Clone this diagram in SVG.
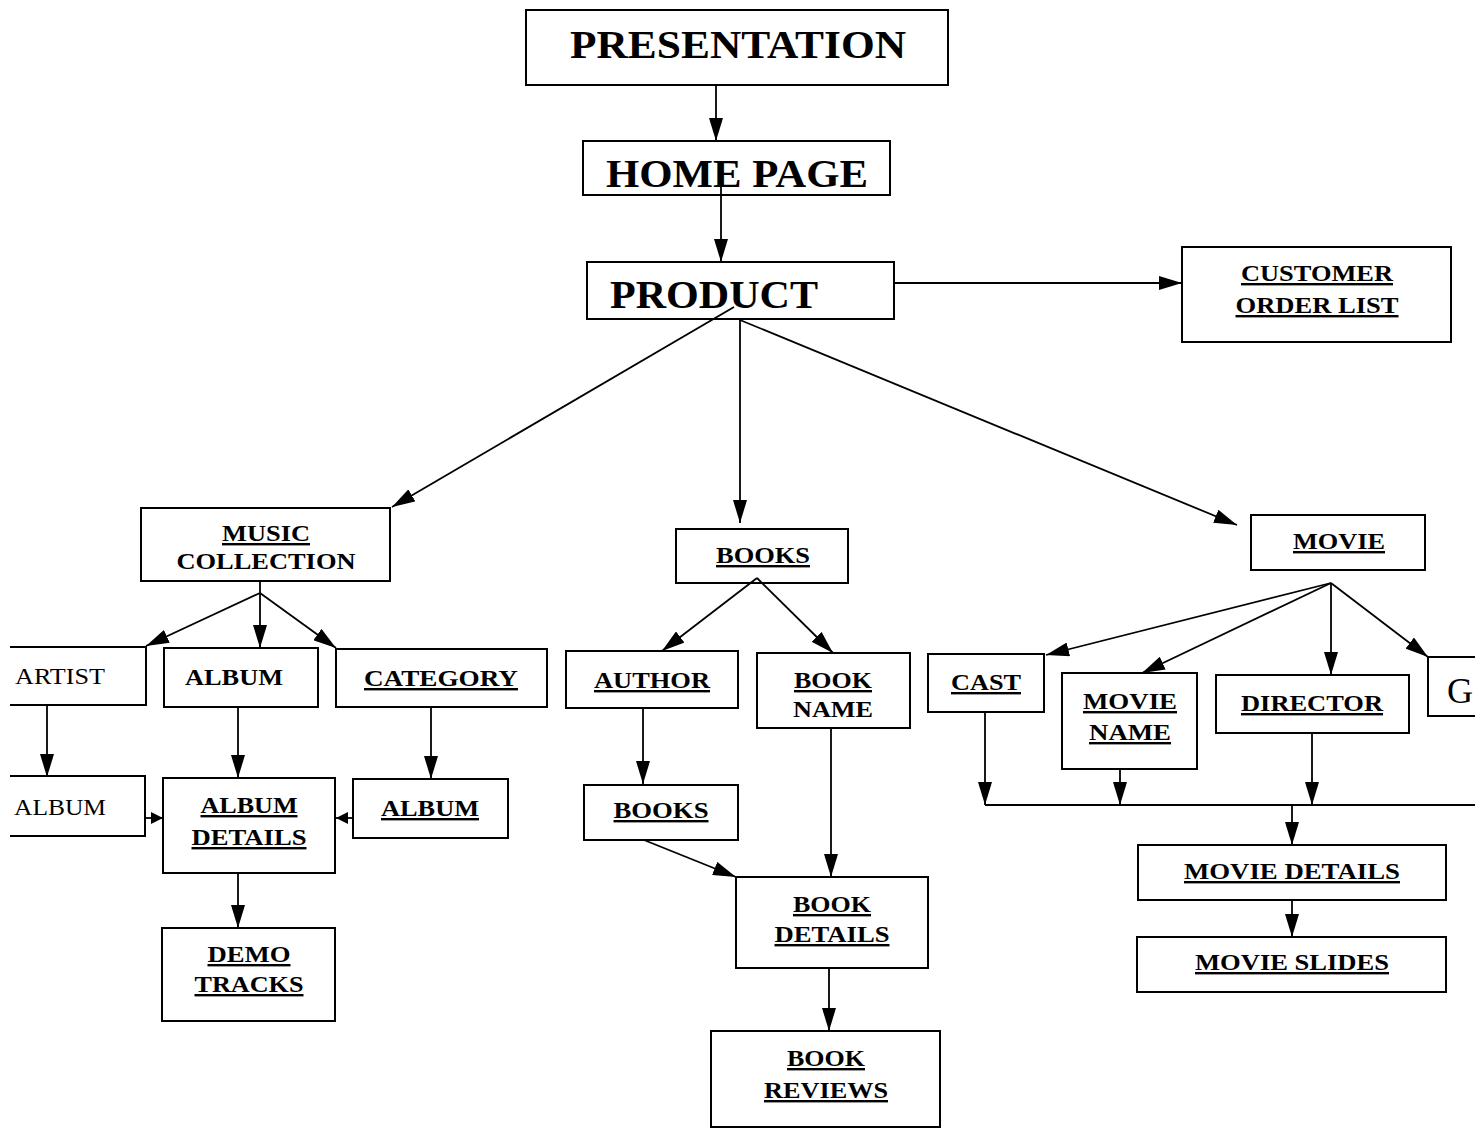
<svg xmlns="http://www.w3.org/2000/svg" width="1475" height="1128" viewBox="0 0 1475 1128">
<style>
.box{fill:none;stroke:#000;stroke-width:2}
.c{fill:none;stroke:#000;stroke-width:1.8}
text{font-family:"Liberation Serif","Times New Roman",serif;fill:#000}
.b{font-weight:bold;font-size:24px}
.r{font-size:23px}
.big{font-weight:bold;font-size:40px}
.u{text-decoration:underline}
</style>
<defs>
<marker id="ah" markerUnits="userSpaceOnUse" markerWidth="24" markerHeight="14" refX="23" refY="7" orient="auto">
<path d="M0,0 L23,7 L0,14 z" fill="#000"/>
</marker>
<marker id="as" markerUnits="userSpaceOnUse" markerWidth="13" markerHeight="12" refX="12" refY="6" orient="auto">
<path d="M0,0 L12,6 L0,12 z" fill="#000"/>
</marker>
</defs>
<rect width="1475" height="1128" fill="#fff"/>
<g id="connectors">
<path class="c" d="M716,85 V141" marker-end="url(#ah)"/>
<path class="c" d="M721,172 V262" marker-end="url(#ah)"/>
<path class="c" d="M894,283 H1182" marker-end="url(#ah)"/>
<path class="c" d="M734,307 L392,507" marker-end="url(#ah)"/>
<path class="c" d="M740,320 V523" marker-end="url(#ah)"/>
<path class="c" d="M740,320 L1237,525" marker-end="url(#ah)"/>
<path class="c" d="M260,582 V593"/>
<path class="c" d="M260,593 L146,646" marker-end="url(#ah)"/>
<path class="c" d="M260,593 V648" marker-end="url(#ah)"/>
<path class="c" d="M260,593 L336,648" marker-end="url(#ah)"/>
<path class="c" d="M47,706 V777" marker-end="url(#ah)"/>
<path class="c" d="M238,707 V778" marker-end="url(#ah)"/>
<path class="c" d="M431,708 V779" marker-end="url(#ah)"/>
<path class="c" d="M145,818 H163" marker-end="url(#as)"/>
<path class="c" d="M353,818 H336" marker-end="url(#as)"/>
<path class="c" d="M238,874 V928" marker-end="url(#ah)"/>
<path class="c" d="M757,578 L662,651" marker-end="url(#ah)"/>
<path class="c" d="M757,578 L833,653" marker-end="url(#ah)"/>
<path class="c" d="M643,708 V784" marker-end="url(#ah)"/>
<path class="c" d="M831,728 V877" marker-end="url(#ah)"/>
<path class="c" d="M644,840 L736,877" marker-end="url(#ah)"/>
<path class="c" d="M829,968 V1031" marker-end="url(#ah)"/>
<path class="c" d="M1331,583 L1046,655" marker-end="url(#ah)"/>
<path class="c" d="M1331,583 L1142,673" marker-end="url(#ah)"/>
<path class="c" d="M1331,583 V675" marker-end="url(#ah)"/>
<path class="c" d="M1331,583 L1428,657" marker-end="url(#ah)"/>
<path class="c" d="M985,712 V805" marker-end="url(#ah)"/>
<path class="c" d="M1120,769 V805" marker-end="url(#ah)"/>
<path class="c" d="M1312,733 V805" marker-end="url(#ah)"/>
<path class="c" d="M985,805 H1475"/>
<path class="c" d="M1292,805 V845" marker-end="url(#ah)"/>
<path class="c" d="M1292,900 V937" marker-end="url(#ah)"/>
</g>
<g id="presentation"><rect class="box" x="526" y="10" width="422" height="75"/><text class="big" x="738" y="58" text-anchor="middle" textLength="336" lengthAdjust="spacingAndGlyphs">PRESENTATION</text></g>
<g id="home-page"><rect class="box" x="583" y="141" width="307" height="54"/><text class="big" x="737" y="187" text-anchor="middle" textLength="262" lengthAdjust="spacingAndGlyphs">HOME PAGE</text></g>
<g id="product"><rect class="box" x="587" y="262" width="307" height="57"/><text class="big" x="714" y="308" text-anchor="middle" textLength="208" lengthAdjust="spacingAndGlyphs">PRODUCT</text></g>
<g id="customer-order-list"><rect class="box" x="1182" y="247" width="269" height="95"/><text class="b u" x="1317" y="281" text-anchor="middle" textLength="152" lengthAdjust="spacingAndGlyphs">CUSTOMER</text><text class="b u" x="1317" y="313" text-anchor="middle" textLength="163" lengthAdjust="spacingAndGlyphs">ORDER LIST</text></g>
<g id="music-collection"><rect class="box" x="141" y="508" width="249" height="73"/><text class="b u" x="266" y="541" text-anchor="middle" textLength="88" lengthAdjust="spacingAndGlyphs">MUSIC</text><text class="b" x="266" y="569" text-anchor="middle" textLength="179" lengthAdjust="spacingAndGlyphs">COLLECTION</text></g>
<g id="artist"><path class="box" d="M10,647 H146 V705 H10"/><text class="r" x="15" y="684" textLength="90" lengthAdjust="spacingAndGlyphs">ARTIST</text></g>
<g id="album"><rect class="box" x="164" y="648" width="154" height="59"/><text class="b" x="234" y="685" text-anchor="middle" textLength="98" lengthAdjust="spacingAndGlyphs">ALBUM</text></g>
<g id="category"><rect class="box" x="336" y="649" width="211" height="58"/><text class="b u" x="441" y="686" text-anchor="middle" textLength="154" lengthAdjust="spacingAndGlyphs">CATEGORY</text></g>
<g id="artist-album"><path class="box" d="M10,776 H145 V836 H10"/><text class="r" x="14" y="815" textLength="92" lengthAdjust="spacingAndGlyphs">ALBUM</text></g>
<g id="album-details"><rect class="box" x="163" y="778" width="172" height="95"/><text class="b u" x="249" y="813" text-anchor="middle" textLength="97" lengthAdjust="spacingAndGlyphs">ALBUM</text><text class="b u" x="249" y="845" text-anchor="middle" textLength="115" lengthAdjust="spacingAndGlyphs">DETAILS</text></g>
<g id="category-album"><rect class="box" x="353" y="779" width="155" height="59"/><text class="b u" x="430" y="816" text-anchor="middle" textLength="98" lengthAdjust="spacingAndGlyphs">ALBUM</text></g>
<g id="demo-tracks"><rect class="box" x="162" y="928" width="173" height="93"/><text class="b u" x="249" y="962" text-anchor="middle" textLength="83" lengthAdjust="spacingAndGlyphs">DEMO</text><text class="b u" x="249" y="992" text-anchor="middle" textLength="109" lengthAdjust="spacingAndGlyphs">TRACKS</text></g>
<g id="books"><rect class="box" x="676" y="529" width="172" height="54"/><text class="b u" x="763" y="563" text-anchor="middle" textLength="94" lengthAdjust="spacingAndGlyphs">BOOKS</text></g>
<g id="author"><rect class="box" x="566" y="651" width="172" height="57"/><text class="b u" x="652" y="688" text-anchor="middle" textLength="116" lengthAdjust="spacingAndGlyphs">AUTHOR</text></g>
<g id="book-name"><rect class="box" x="757" y="653" width="153" height="75"/><text class="b u" x="833" y="688" text-anchor="middle" textLength="78" lengthAdjust="spacingAndGlyphs">BOOK</text><text class="b" x="833" y="717" text-anchor="middle" textLength="80" lengthAdjust="spacingAndGlyphs">NAME</text></g>
<g id="author-books"><rect class="box" x="584" y="785" width="154" height="55"/><text class="b u" x="661" y="818" text-anchor="middle" textLength="95" lengthAdjust="spacingAndGlyphs">BOOKS</text></g>
<g id="book-details"><rect class="box" x="736" y="877" width="192" height="91"/><text class="b u" x="832" y="912" text-anchor="middle" textLength="78" lengthAdjust="spacingAndGlyphs">BOOK</text><text class="b u" x="832" y="942" text-anchor="middle" textLength="115" lengthAdjust="spacingAndGlyphs">DETAILS</text></g>
<g id="book-reviews"><rect class="box" x="711" y="1031" width="229" height="96"/><text class="b u" x="826" y="1066" text-anchor="middle" textLength="78" lengthAdjust="spacingAndGlyphs">BOOK</text><text class="b u" x="826" y="1098" text-anchor="middle" textLength="124" lengthAdjust="spacingAndGlyphs">REVIEWS</text></g>
<g id="movie"><rect class="box" x="1251" y="515" width="174" height="55"/><text class="b u" x="1339" y="549" text-anchor="middle" textLength="92" lengthAdjust="spacingAndGlyphs">MOVIE</text></g>
<g id="cast"><rect class="box" x="928" y="654" width="116" height="58"/><text class="b u" x="986" y="690" text-anchor="middle" textLength="70" lengthAdjust="spacingAndGlyphs">CAST</text></g>
<g id="movie-name"><rect class="box" x="1062" y="673" width="135" height="96"/><text class="b u" x="1130" y="709" text-anchor="middle" textLength="94" lengthAdjust="spacingAndGlyphs">MOVIE</text><text class="b u" x="1130" y="740" text-anchor="middle" textLength="82" lengthAdjust="spacingAndGlyphs">NAME</text></g>
<g id="director"><rect class="box" x="1216" y="675" width="193" height="58"/><text class="b u" x="1312" y="711" text-anchor="middle" textLength="142" lengthAdjust="spacingAndGlyphs">DIRECTOR</text></g>
<g id="g-node"><path class="box" d="M1475,657 H1428 V716 H1475"/><text x="1447" y="703" font-size="36">G</text></g>
<g id="movie-details"><rect class="box" x="1138" y="845" width="308" height="55"/><text class="b u" x="1292" y="879" text-anchor="middle" textLength="216" lengthAdjust="spacingAndGlyphs">MOVIE DETAILS</text></g>
<g id="movie-slides"><rect class="box" x="1137" y="937" width="309" height="55"/><text class="b u" x="1292" y="970" text-anchor="middle" textLength="194" lengthAdjust="spacingAndGlyphs">MOVIE SLIDES</text></g>
</svg>
